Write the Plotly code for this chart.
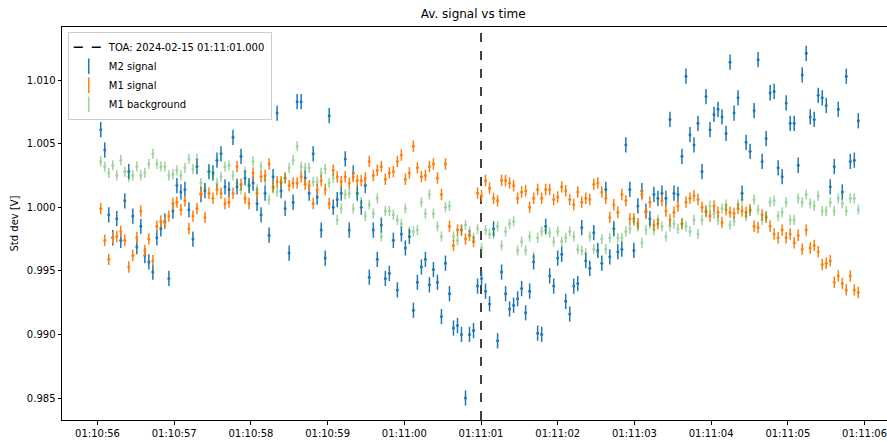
import pandas as pd
import plotly.graph_objects as go

# ---- data ----
start_time = "2024-02-15 01:10:56.042"
step_ms = 52.26
toa_time = "2024-02-15 01:11:01.000"

m2_signal = [
    1.0061, 1.0045, 0.9994, 0.9976, 0.9991, 0.9974, 1.0005, 1.0028, 0.9993, 0.9969,
    0.9985, 0.9962, 0.9957, 0.9949, 0.9976, 0.9983, 0.9989, 0.9944, 0.9997, 1.0017,
    1.0012, 1.0014, 0.9998, 0.9975, 1.0032, 1.0010, 1.0013, 1.0028, 1.0027, 1.0037,
    1.0042, 1.0016, 1.0014, 1.0055, 1.0016, 1.0040, 1.0023, 1.0017, 1.0019, 1.0003,
    0.9994, 1.0011, 0.9978, 1.0024, 1.0074, 1.0013, 0.9999, 0.9964, 1.0004, 1.0083,
    1.0083, 1.0023, 1.0011, 1.0042, 1.0008, 0.9982, 0.9960, 1.0072, 1.0000, 1.0006,
    1.0011, 1.0038, 0.9982, 1.0027, 1.0011, 1.0000, 1.0017, 0.9945, 0.9982, 0.9959,
    0.9986, 0.9944, 0.9948, 0.9974, 0.9935, 0.9979, 0.9968, 0.9977, 0.9919, 0.9941,
    0.9953, 0.9959, 0.9939, 0.9951, 0.9941, 0.9914, 0.9956, 0.9932, 0.9905, 0.9907,
    0.9900, 0.9850, 0.9900, 0.9903, 0.9938, 0.9944, 0.9934, 0.9924, 0.9983, 0.9895,
    0.9949, 0.9932, 0.9920, 0.9923, 0.9928, 0.9936, 0.9917, 0.9934, 0.9957, 0.9901,
    0.9900, 0.9985, 0.9946, 0.9938, 0.9960, 0.9963, 0.9926, 0.9916, 0.9938, 0.9940,
    0.9984, 0.9958, 0.9952, 0.9980, 0.9966, 0.9956, 1.0014, 0.9961, 0.9983, 0.9965,
    0.9967, 1.0049, 1.0014, 0.9966, 1.0001, 1.0013, 0.9997, 0.9991, 1.0010, 1.0007,
    1.0011, 1.0007, 1.0069, 1.0011, 1.0010, 1.0040, 1.0103, 1.0057, 1.0049, 1.0066,
    1.0028, 1.0087, 1.0061, 1.0073, 1.0077, 1.0071, 1.0058, 1.0114, 1.0074, 1.0086,
    1.0011, 1.0051, 1.0044, 1.0076, 1.0116, 1.0036, 1.0054, 1.0090, 1.0091, 1.0031,
    1.0024, 1.0082, 1.0066, 1.0066, 1.0033, 1.0104, 1.0121, 1.0071, 1.0069, 1.0088,
    1.0086, 1.0080, 1.0016, 1.0032, 1.0077, 1.0012, 1.0103, 1.0036, 1.0037, 1.0068,
]

m1_signal = [
    0.9999, 0.9974, 0.9959, 0.9976, 0.9977, 0.9981, 0.9974, 0.9953, 0.9962, 0.9976,
    0.9997, 0.9966, 0.9975, 0.9958, 0.9985, 0.9989, 0.9988, 0.9993, 1.0003, 1.0004,
    0.9998, 1.0005, 0.9983, 0.9993, 0.9999, 1.0011, 0.9992, 1.0011, 1.0007, 1.0014,
    1.0011, 1.0003, 1.0004, 1.0011, 1.0032, 1.0018, 1.0007, 1.0003, 1.0027, 1.0011,
    1.0024, 1.0025, 1.0034, 1.0016, 1.0020, 1.0020, 1.0023, 1.0017, 1.0019, 1.0019,
    1.0024, 1.0018, 1.0017, 1.0003, 1.0014, 1.0021, 1.0014, 1.0003, 1.0029, 1.0024,
    1.0020, 1.0024, 1.0019, 1.0024, 1.0021, 1.0021, 1.0023, 1.0036, 1.0025, 1.0029,
    1.0032, 1.0022, 1.0027, 1.0028, 1.0036, 1.0041, 1.0022, 1.0027, 1.0048, 1.0031,
    1.0024, 1.0025, 1.0032, 1.0034, 1.0023, 1.0010, 1.0034, 0.9985, 0.9970, 0.9982,
    0.9982, 0.9975, 0.9978, 0.9973, 1.0011, 1.0009, 1.0021, 1.0015, 1.0007, 1.0005,
    1.0021, 1.0021, 1.0019, 1.0017, 1.0007, 1.0012, 1.0013, 1.0000, 1.0007, 1.0014,
    1.0007, 1.0014, 1.0014, 1.0006, 1.0008, 1.0016, 1.0013, 1.0006, 1.0002, 1.0012,
    1.0004, 1.0007, 1.0006, 1.0018, 1.0019, 1.0012, 1.0007, 0.9992, 1.0002, 0.9996,
    1.0010, 1.0005, 0.9991, 0.9991, 0.9987, 1.0010, 0.9996, 1.0004, 0.9986, 0.9987,
    1.0005, 0.9997, 0.9990, 0.9996, 1.0001, 0.9987, 1.0004, 1.0007, 1.0009, 1.0006,
    1.0000, 0.9997, 0.9993, 1.0001, 0.9996, 0.9988, 0.9998, 0.9996, 0.9995, 0.9999,
    0.9997, 0.9996, 0.9998, 0.9985, 0.9984, 0.9994, 0.9992, 0.9985, 0.9979, 0.9976,
    0.9982, 0.9976, 0.9979, 0.9972, 0.9978, 0.9967, 0.9982, 0.9968, 0.9970, 0.9965,
    0.9955, 0.9956, 0.9958, 0.9941, 0.9946, 0.9940, 0.9935, 0.9946, 0.9935, 0.9933,
]

m1_background = [
    1.0036, 1.0032, 1.0027, 1.0033, 1.0025, 1.0037, 1.0028, 1.0024, 1.0025, 1.0032,
    1.0025, 1.0027, 1.0034, 1.0042, 1.0034, 1.0032, 1.0032, 1.0025, 1.0026, 1.0029,
    1.0025, 1.0031, 1.0038, 1.0030, 1.0038, 1.0019, 1.0015, 1.0028, 1.0025, 1.0019,
    1.0024, 1.0032, 1.0033, 1.0025, 1.0019, 1.0014, 1.0028, 1.0017, 1.0036, 1.0014,
    1.0032, 1.0021, 1.0006, 1.0015, 1.0012, 1.0019, 1.0023, 1.0031, 1.0037, 1.0048,
    1.0032, 1.0031, 1.0031, 1.0020, 1.0020, 1.0027, 1.0030, 1.0019, 1.0023, 0.9990,
    0.9999, 1.0010, 1.0011, 0.9999, 1.0011, 1.0004, 0.9993, 1.0002, 0.9995, 1.0007,
    0.9977, 0.9997, 0.9997, 0.9994, 0.9990, 0.9987, 0.9999, 0.9981, 0.9981, 0.9982,
    1.0004, 0.9995, 1.0010, 0.9995, 0.9985, 0.9977, 1.0000, 1.0001, 0.9977, 0.9974,
    0.9982, 0.9986, 0.9981, 0.9976, 0.9983, 0.9968, 0.9982, 0.9979, 0.9979, 0.9985,
    0.9970, 0.9981, 0.9987, 0.9989, 0.9966, 0.9973, 0.9966, 0.9977, 0.9961, 0.9976,
    0.9981, 0.9982, 0.9980, 0.9973, 0.9981, 0.9973, 0.9976, 0.9981, 0.9977, 0.9967,
    0.9966, 0.9964, 0.9977, 0.9967, 0.9964, 0.9975, 0.9967, 0.9976, 0.9983, 0.9976,
    0.9976, 0.9981, 0.9983, 0.9989, 0.9985, 0.9972, 0.9982, 0.9987, 0.9982, 0.9990,
    0.9985, 0.9977, 0.9985, 0.9987, 0.9983, 0.9987, 0.9985, 0.9981, 0.9990, 0.9979,
    0.9990, 0.9996, 1.0001, 0.9995, 0.9990, 0.9999, 1.0002, 0.9986, 0.9989, 1.0002,
    1.0006, 0.9993, 0.9997, 1.0006, 0.9998, 0.9990, 0.9993, 1.0004, 1.0005, 0.9993,
    0.9996, 1.0004, 0.9990, 0.9990, 1.0007, 1.0004, 1.0010, 1.0003, 1.0001, 1.0009,
    0.9997, 0.9997, 1.0004, 0.9997, 1.0007, 1.0003, 0.9997, 1.0007, 1.0007, 0.9998,
]

m2_err = 0.0006
m1_err = 0.00045
bg_err = 0.0004

y_ticks = [0.985, 0.990, 0.995, 1.000, 1.005, 1.010]

# ---- build ----
n = len(m2_signal)
times = pd.Timestamp(start_time) + pd.to_timedelta([k * step_ms for k in range(n)], unit="ms")
x_str = [t.strftime("%Y-%m-%d %H:%M:%S.%f") for t in times]

BLUE, ORANGE, GREEN = "#1f77b4", "#ff7f0e", "#2ca02c"
FONT = "DejaVu Sans"
Y_RANGE = [0.98327, 1.01417]

fig = go.Figure()

fig.add_trace(go.Scatter(
    x=[toa_time, toa_time], y=Y_RANGE, mode="lines",
    line=dict(color="black", width=1.5, dash="dash"),
    name="TOA: 2024-02-15 01:11:01.000",
))

def add_err(y, err, color, name, opacity=1.0):
    fig.add_trace(go.Scatter(
        x=x_str, y=y, mode="markers", name=name, opacity=opacity, showlegend=False,
        marker=dict(color=color, size=3, line=dict(width=0)),
        error_y=dict(type="constant", value=err, color=color, thickness=1.5, width=0),
    ))
    # legend glyph: vertical error-bar look
    fig.add_trace(go.Scatter(
        x=[None], y=[None], mode="markers", name=name, opacity=opacity,
        marker=dict(symbol="line-ns", size=11, color=color,
                    line=dict(color=color, width=1.5)),
    ))

add_err(m2_signal, m2_err, BLUE, "M2 signal")
add_err(m1_signal, m1_err, ORANGE, "M1 signal")
add_err(m1_background, bg_err, GREEN, "M1 background", opacity=0.45)

fig.update_layout(
    width=887, height=442,
    margin=dict(l=62, r=0, t=27, b=22, autoexpand=False),
    paper_bgcolor="white", plot_bgcolor="white",
    font=dict(family=FONT, size=10, color="black"),
    title=dict(text="Av. signal vs time", x=0.5335, xanchor="center",
               y=0.968, yanchor="middle", font=dict(size=12, family=FONT)),
    showlegend=True,
    legend=dict(
        x=0.007, y=0.988, xanchor="left", yanchor="top",
        bgcolor="rgba(255,255,255,0.8)", bordercolor="#cccccc", borderwidth=1,
        font=dict(size=10, family=FONT), itemwidth=30, tracegroupgap=0,
    ),
    xaxis=dict(
        type="date", automargin=False,
        range=["2024-02-15 01:10:55.537", "2024-02-15 01:11:06.293"],
        tickformat="%H:%M:%S", dtick=1000, tick0="2024-02-15 01:10:56",
        showgrid=False, zeroline=False,
        showline=True, linecolor="black", linewidth=1, mirror=True,
        ticks="outside", ticklen=3.5, tickwidth=1, tickcolor="black",
        tickfont=dict(size=10, family=FONT),
    ),
    yaxis=dict(
        range=Y_RANGE, automargin=False,
        tickvals=y_ticks, tickformat=".3f",
        showgrid=False, zeroline=False,
        showline=True, linecolor="black", linewidth=1,
        ticks="outside", ticklen=3.5, tickwidth=1, tickcolor="black",
        tickfont=dict(size=10, family=FONT),
        title=dict(text="Std dev [V]", font=dict(size=10, family=FONT), standoff=6),
    ),
)

fig.write_html(
    "out.html",
    config={"displayModeBar": False},
    post_script="document.body.style.margin='0';document.body.style.overflow='hidden';",
)
